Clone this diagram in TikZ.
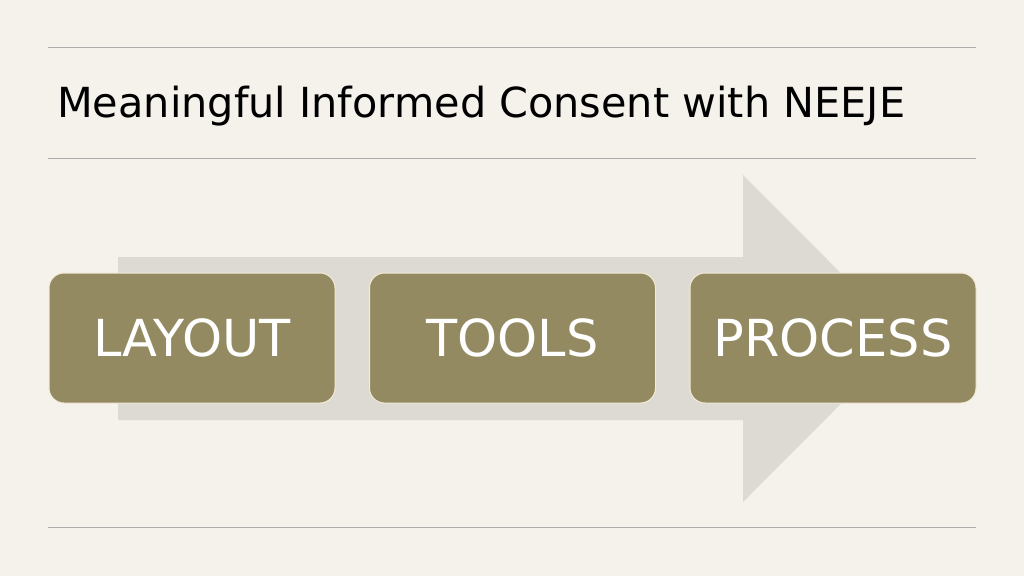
\documentclass[tikz,border=0pt]{standalone}
\usepackage{fontspec}
\setmainfont{DejaVu Sans}
\usetikzlibrary{positioning}
\definecolor{fond}{HTML}{F5F1EB}
\definecolor{kaki}{HTML}{948A62}
\definecolor{creme}{HTML}{F3EBD6}
\definecolor{ombre}{HTML}{DCDAD2}
\definecolor{gris}{HTML}{ABABAB}

\begin{document}
\begin{tikzpicture}[
x=1pt, y=-1pt,
etape/.style = {
  rectangle,
  rounded corners=15pt,
  fill=kaki,
  draw=creme,
  line width=1pt,
  minimum width=286pt,
  minimum height=130pt,
  text=white,
  font=\fontsize{51}{51}\selectfont},
regle/.style = {draw=gris, line width=1pt},
node distance = 33.5pt,
]
\fill[fond] (0,0) rectangle (1024,576);
\useasboundingbox (0,0) rectangle (1024,576);

\draw[regle] (48,47) -- (976,47);
\draw[regle] (48,158) -- (976,158);
\draw[regle] (48,527) -- (976,527);

\node[anchor=base west, inner sep=0pt, font=\fontsize{41.4}{41.4}\selectfont] (titre) at (57,117) {Meaningful Informed Consent with NEEJE};

% grande fleche
\fill[ombre] (118,257) -- (743,257) -- (743,175) -- (906,338.5)
  -- (743,502) -- (743,420) -- (118,420) -- cycle;

\node[etape] (layout) at (192,338) {LAYOUT};
\node[etape, right = of layout] (tools) {TOOLS};
\node[etape, right = of tools] (process) {PROCESS};

\end{tikzpicture}
\end{document}
